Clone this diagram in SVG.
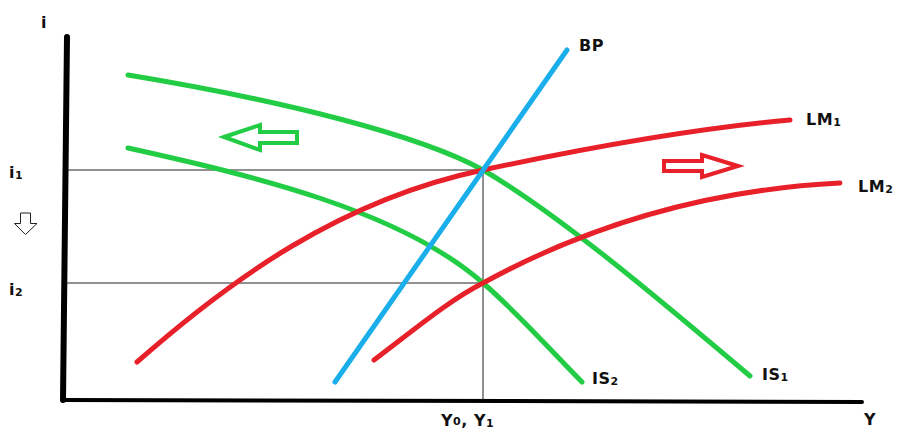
<svg xmlns="http://www.w3.org/2000/svg" width="906" height="430" viewBox="0 0 906 430">
<style>
.lbl{font-family:"DejaVu Sans","Liberation Sans",Arial,sans-serif;font-weight:bold;font-size:16px;fill:#111;letter-spacing:0.5px}
.sub{font-size:11px}
.g{stroke:#22CC44;stroke-width:5;fill:none;stroke-linecap:round}
.r{stroke:#E8202A;stroke-width:5;fill:none;stroke-linecap:round}
.b{stroke:#1AAEEA;stroke-width:5;fill:none;stroke-linecap:round}
.thin{stroke:#222;stroke-width:1;fill:none}
</style>
<rect width="906" height="430" fill="#fff"/>
<g id="axes">
<path d="M67,37 L63,400" stroke="#000" stroke-width="6" stroke-linecap="round" fill="none"/>
<path d="M63,400 L862,402" stroke="#000" stroke-width="4" stroke-linecap="round" fill="none"/>
</g>
<g id="guides">
<path class="thin" d="M68,170 H483 V400"/>
<path class="thin" d="M66,283 H483"/>
</g>
<g id="connectors">
<path id="IS1" class="g" d="M128,75 C280,100 420,135 483,170 C560,215 660,300 750,376"/>
<path id="IS2" class="g" d="M128,148 C250,175 400,210 483,283 C520,315 550,350 582,382"/>
<path id="LM1" class="r" d="M137,362 C230,280 340,200 483,170 C600,145 700,128 790,120"/>
<path id="LM2" class="r" d="M374,360 C420,325 450,300 483,283 C580,230 700,190 840,183"/>
<path id="BP" class="b" d="M335,382 L567,50"/>
</g>
<g id="shift-arrows">
<path d="M224,137 L260,125 L260,132 L297,132 L297,143 L260,143 L260,150 Z" fill="#fff" stroke="#22CC44" stroke-width="4" stroke-linejoin="miter"/>
<path d="M738,166 L702,155 L702,161 L664,161 L664,171 L702,171 L702,177 Z" fill="#fff" stroke="#E8202A" stroke-width="4" stroke-linejoin="miter"/>
<path d="M20.5,213 H30.5 V223.5 H37 L25.5,234.5 L14.5,223.5 H20.5 Z" fill="#fff" stroke="#222" stroke-width="1"/>
</g>
<g id="labels">
<text class="lbl" x="41" y="28">i</text>
<text class="lbl" x="9" y="178">i<tspan class="sub" dy="1">1</tspan></text>
<text class="lbl" x="9" y="295">i<tspan class="sub" dy="1">2</tspan></text>
<text class="lbl" x="579" y="51">BP</text>
<text class="lbl" x="806" y="125">LM<tspan class="sub" dy="1">1</tspan></text>
<text class="lbl" x="858" y="192">LM<tspan class="sub" dy="1">2</tspan></text>
<text class="lbl" x="592" y="384">IS<tspan class="sub" dy="1">2</tspan></text>
<text class="lbl" x="762" y="380">IS<tspan class="sub" dy="1">1</tspan></text>
<text class="lbl" x="864" y="425">Y</text>
<text class="lbl" x="441" y="426">Y<tspan class="sub" dy="-1">0</tspan><tspan dy="1">, Y</tspan><tspan class="sub" dy="1">1</tspan></text>
</g>
</svg>
